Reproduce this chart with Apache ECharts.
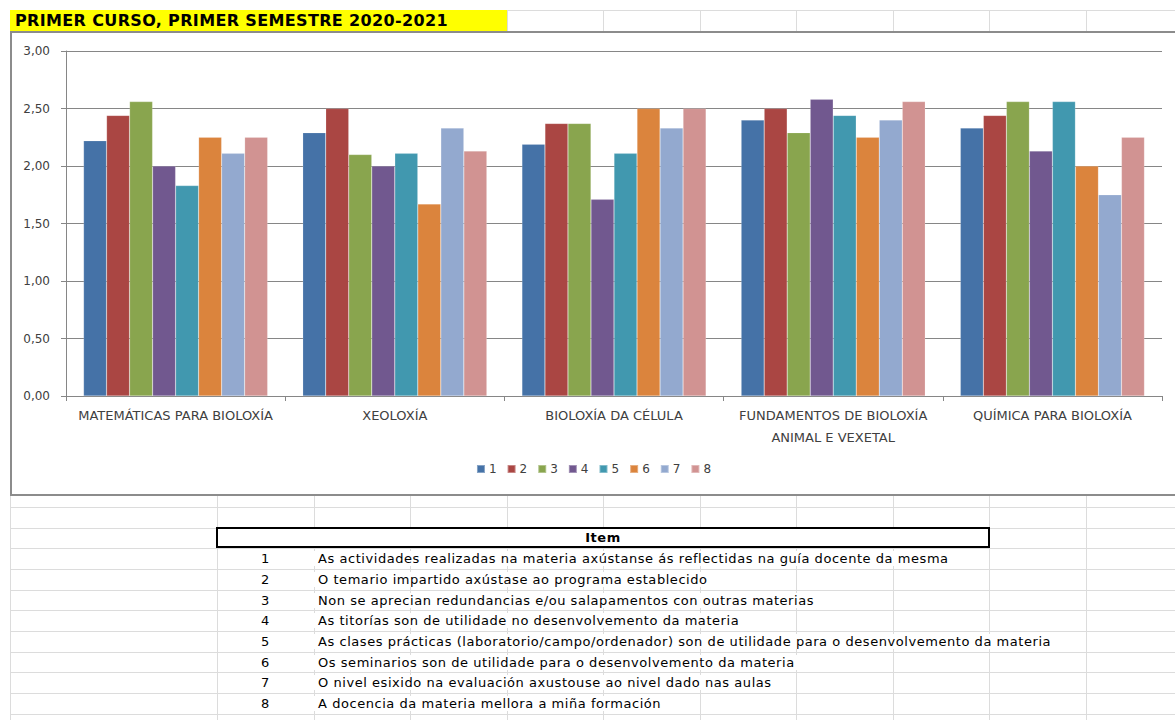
<!DOCTYPE html>
<html>
<head>
<meta charset="utf-8">
<script src="https://cdn.jsdelivr.net/npm/echarts@6/dist/echarts.min.js"></script>
<style>
html,body{margin:0;padding:0;background:#fff;}
body{width:1175px;height:720px;position:relative;overflow:hidden;font-family:"DejaVu Sans",sans-serif;}
.hl{position:absolute;height:1px;background:#dcdcdc;}
.vl{position:absolute;width:1px;background:#dcdcdc;}
#title{position:absolute;left:10px;top:10px;width:497px;height:21px;background:#ffff00;
  font-family:"DejaVu Sans",sans-serif;font-weight:bold;font-size:16px;letter-spacing:0.35px;line-height:21px;color:#000;padding-left:5px;box-sizing:border-box;white-space:nowrap;}
#frame{position:absolute;left:10px;top:31px;width:1180px;height:465px;border:2px solid #8c8c8c;box-sizing:border-box;background:#fff;}
#chart{position:absolute;left:12px;top:33px;width:1163px;height:461px;}
.cell{position:absolute;font-family:"DejaVu Sans",sans-serif;font-size:13px;color:#000;white-space:nowrap;line-height:20px;letter-spacing:0.55px;}
.txt{background:#fff;padding-right:2px;}
#hdr{position:absolute;left:216px;top:527px;width:774px;height:21px;border:2px solid #000;box-sizing:border-box;background:#fff;
  font-family:"DejaVu Sans",sans-serif;font-weight:bold;font-size:13px;line-height:17px;text-align:center;letter-spacing:0.5px;}
</style>
</head>
<body>
<div id="sheet"></div>
<div id="title">PRIMER CURSO, PRIMER SEMESTRE 2020-2021</div>
<div id="frame"></div>
<div id="chart"></div>
<div id="hdr">Item</div>
<div id="table"></div>
<script>
// ---- data ----
var categories = ["MATEMÁTICAS PARA BIOLOXÍA", "XEOLOXÍA", "BIOLOXÍA DA CÉLULA", "FUNDAMENTOS DE BIOLOXÍA\nANIMAL E VEXETAL", "QUÍMICA PARA BIOLOXÍA"];
var itemNames = ["1", "2", "3", "4", "5", "6", "7", "8"];
var item1 = [2.22, 2.29, 2.19, 2.40, 2.33];
var item2 = [2.44, 2.50, 2.37, 2.50, 2.44];
var item3 = [2.56, 2.10, 2.37, 2.29, 2.56];
var item4 = [2.00, 2.00, 1.71, 2.58, 2.13];
var item5 = [1.83, 2.11, 2.11, 2.44, 2.56];
var item6 = [2.25, 1.67, 2.50, 2.25, 2.00];
var item7 = [2.11, 2.33, 2.33, 2.40, 1.75];
var item8 = [2.25, 2.13, 2.50, 2.56, 2.25];
var itemTexts = [
  "As actividades realizadas na materia axústanse ás reflectidas na guía docente da mesma",
  "O temario impartido axústase ao programa establecido",
  "Non se aprecian redundancias e/ou salapamentos con outras materias",
  "As titorías son de utilidade no desenvolvemento da materia",
  "As clases prácticas (laboratorio/campo/ordenador) son de utilidade para o desenvolvemento da materia",
  "Os seminarios son de utilidade para o desenvolvemento da materia",
  "O nivel esixido na evaluación axustouse ao nivel dado nas aulas",
  "A docencia da materia mellora a miña formación"
];
var tableHeader = "Item";
var seriesValues = [item1, item2, item3, item4, item5, item6, item7, item8];
var colors = ["#4572A7", "#AA4643", "#89A54E", "#71588F", "#4198AF", "#DB843D", "#93A9CF", "#D19392"];

// ---- spreadsheet grid ----
(function(){
  var sheet = document.getElementById('sheet');
  var rowH = 20.7, y0 = 10;
  var cols = [10, 217, 313.5, 410, 506.5, 603, 699.5, 796, 892.5, 989, 1085.5];
  var html = '';
  for (var n = 0; n < 36; n++) {
    var y = Math.round(y0 + rowH * n);
    if (y > 720) break;
    html += '<div class="hl" style="left:10px;top:' + y + 'px;width:1165px"></div>';
  }
  cols.forEach(function(x){
    html += '<div class="vl" style="left:' + Math.round(x) + 'px;top:10px;height:710px"></div>';
  });
  sheet.innerHTML = html;

  var tb = document.getElementById('table');
  var t = '';
  for (var i = 0; i < itemTexts.length; i++) {
    var top = Math.round(y0 + rowH * (26 + i)) + 1;
    t += '<div class="cell" style="left:218px;width:95px;text-align:center;top:' + top + 'px">' + itemNames[i] + '</div>';
    t += '<div class="cell" style="left:314px;top:' + top + 'px"><span class="txt" style="padding-left:4px">' + itemTexts[i] + '</span></div>';
  }
  tb.innerHTML = t;
  document.getElementById('hdr').textContent = tableHeader;
})();

// ---- chart ----
var chart = echarts.init(document.getElementById('chart'), null, {renderer: 'svg'});
var axisFont = '"DejaVu Sans", sans-serif';
chart.setOption({
  animation: false,
  backgroundColor: '#fff',
  color: colors,
  grid: {left: 54, right: 13, top: 18, bottom: 98, containLabel: false},
  legend: {
    data: itemNames,
    bottom: 14,
    left: 'center',
    itemWidth: 8,
    itemHeight: 8,
    itemGap: 10,
    icon: 'rect',
    textStyle: {fontFamily: axisFont, fontSize: 12, color: '#404040', padding: [0, 0, 0, -1]}
  },
  xAxis: {
    type: 'category',
    data: categories,
    axisLine: {lineStyle: {color: '#868686', width: 1}},
    axisTick: {show: true, length: 5, lineStyle: {color: '#868686'}},
    axisLabel: {fontFamily: axisFont, fontSize: 13, color: '#404040', margin: 8, lineHeight: 22, interval: 0}
  },
  yAxis: {
    type: 'value',
    min: 0, max: 3, interval: 0.5,
    axisLine: {show: true, lineStyle: {color: '#868686', width: 1}},
    axisTick: {show: true, length: 5, lineStyle: {color: '#868686'}},
    splitLine: {lineStyle: {color: '#868686', width: 1}},
    axisLabel: {
      fontFamily: axisFont, fontSize: 12, color: '#404040', margin: 16,
      formatter: function(v){ return v.toFixed(2).replace('.', ','); }
    }
  },
  series: seriesValues.map(function(vals, i){
    return {
      name: itemNames[i],
      type: 'bar',
      data: vals,
      barGap: '0%',
      barCategoryGap: '16%',
      itemStyle: {borderColor: 'rgba(255,255,255,0.35)', borderWidth: 0.5}
    };
  })
});
</script>
</body>
</html>
